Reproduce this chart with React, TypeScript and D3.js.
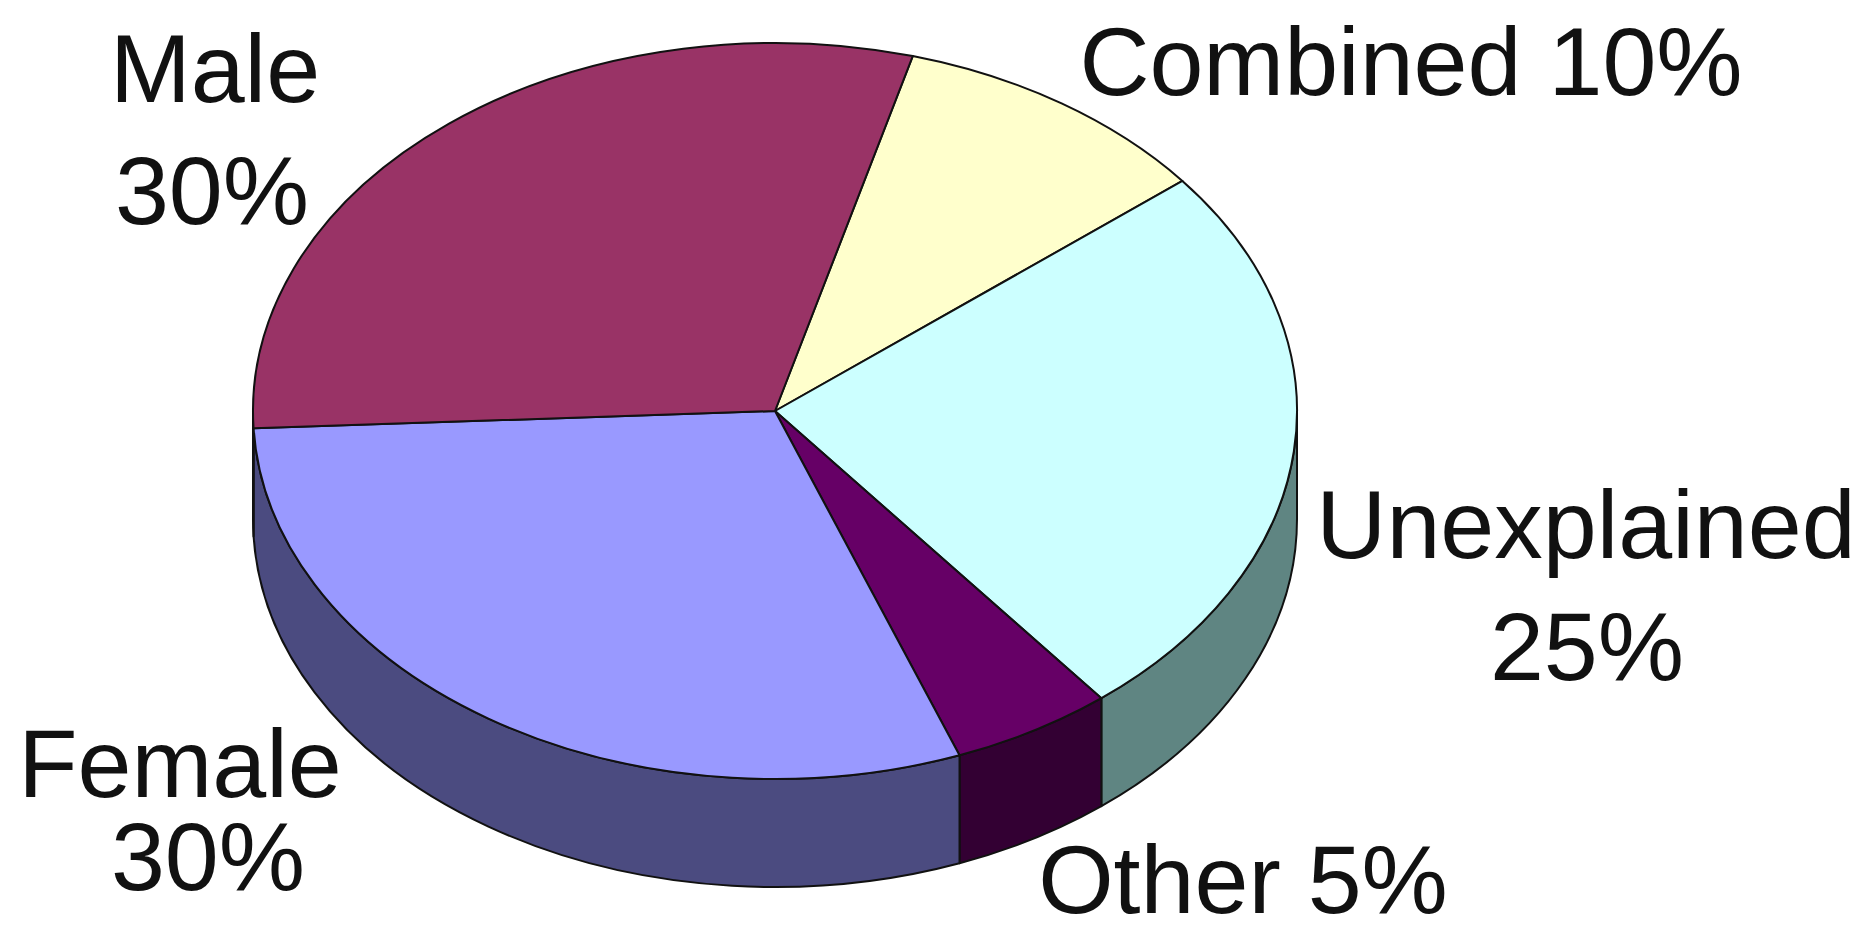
import React, { useEffect } from "react";
import * as d3 from "d3";

// ---- data ----
const categories = ["Combined", "Unexplained", "Other", "Female", "Male"];
const values = [10, 25, 5, 30, 30];
const topColors = ["#FFFFCC", "#CCFFFF", "#660066", "#9999FF", "#993366"];
const sideColors = ["#80805F", "#5F8582", "#330033", "#4B4B80", "#4D1A33"];
const labelLines = [
  ["Combined 10%"],
  ["Unexplained", "25%"],
  ["Other 5%"],
  ["Female", "30%"],
  ["Male", "30%"],
];

// ---- layout ----
const W = 1859;
const H = 934;
const CX = 775;
const CY = 411;
const RX = 522;
const RY = 368;
const DEPTH = 108;
const START_DEG = 15.3;
const FONT_SIZE = 97;
const labelPos: { x: number; y: number }[][] = [
  [{ x: 1411, y: 95 }],
  [{ x: 1586, y: 558 }, { x: 1587, y: 680 }],
  [{ x: 1243, y: 913 }],
  [{ x: 180, y: 797 }, { x: 208, y: 890 }],
  [{ x: 215, y: 102 }, { x: 212, y: 224 }],
];

function pt(theta: number, dy = 0): [number, number] {
  return [CX + RX * Math.sin(theta), CY - RY * Math.cos(theta) + dy];
}

function topPath(a0: number, a1: number) {
  const [x0, y0] = pt(a0);
  const [x1, y1] = pt(a1);
  const large = a1 - a0 > Math.PI ? 1 : 0;
  return `M${CX},${CY}L${x0},${y0}A${RX},${RY} 0 ${large} 1 ${x1},${y1}Z`;
}

function wallPath(a0: number, a1: number) {
  const [x0, y0] = pt(a0);
  const [x1, y1] = pt(a1);
  const [bx0, by0] = pt(a0, DEPTH);
  const [bx1, by1] = pt(a1, DEPTH);
  const large = a1 - a0 > Math.PI ? 1 : 0;
  return `M${x0},${y0}A${RX},${RY} 0 ${large} 1 ${x1},${y1}L${bx1},${by1}A${RX},${RY} 0 ${large} 0 ${bx0},${by0}Z`;
}

// visible (front) part of the wall: theta in [90deg, 270deg] (mod 360)
function frontRange(a0: number, a1: number): [number, number] | null {
  const lo = Math.PI / 2;
  const hi = (3 * Math.PI) / 2;
  for (const shift of [0, -2 * Math.PI, 2 * Math.PI]) {
    const s = Math.max(a0 + shift, lo);
    const e = Math.min(a1 + shift, hi);
    if (e > s + 1e-6) return [s, e];
  }
  return null;
}

export default function App() {
  useEffect(() => {
    document.body.style.margin = "0";
    document.body.style.background = "#ffffff";
  }, []);

  const start = (START_DEG * Math.PI) / 180;
  const arcs = d3
    .pie<number>()
    .sort(null)
    .startAngle(start)
    .endAngle(start + 2 * Math.PI)(values);

  const stroke = "#111";

  return (
    <svg
      width={W}
      height={H}
      viewBox={`0 0 ${W} ${H}`}
      style={{ position: "absolute", left: 0, top: 0, background: "#fff" }}
    >
      <g>
        {arcs.map((a, i) => {
          const r = frontRange(a.startAngle, a.endAngle);
          if (!r) return null;
          return (
            <path
              key={"w" + i}
              d={wallPath(r[0], r[1])}
              fill={sideColors[i]}
              stroke={stroke}
              strokeWidth={2}
              strokeLinejoin="round"
            />
          );
        })}
      </g>
      <g>
        {arcs.map((a, i) => (
          <path
            key={"t" + i}
            d={topPath(a.startAngle, a.endAngle)}
            fill={topColors[i]}
            stroke={stroke}
            strokeWidth={2}
            strokeLinejoin="round"
          />
        ))}
      </g>
      <g
        fontFamily="'Liberation Sans', Arial, sans-serif"
        fontSize={FONT_SIZE}
        fill="#111"
        textAnchor="middle"
      >
        {categories.map((c, i) =>
          labelLines[i].map((line, j) => (
            <text key={c + j} x={labelPos[i][j].x} y={labelPos[i][j].y}>
              {line}
            </text>
          ))
        )}
      </g>
    </svg>
  );
}
